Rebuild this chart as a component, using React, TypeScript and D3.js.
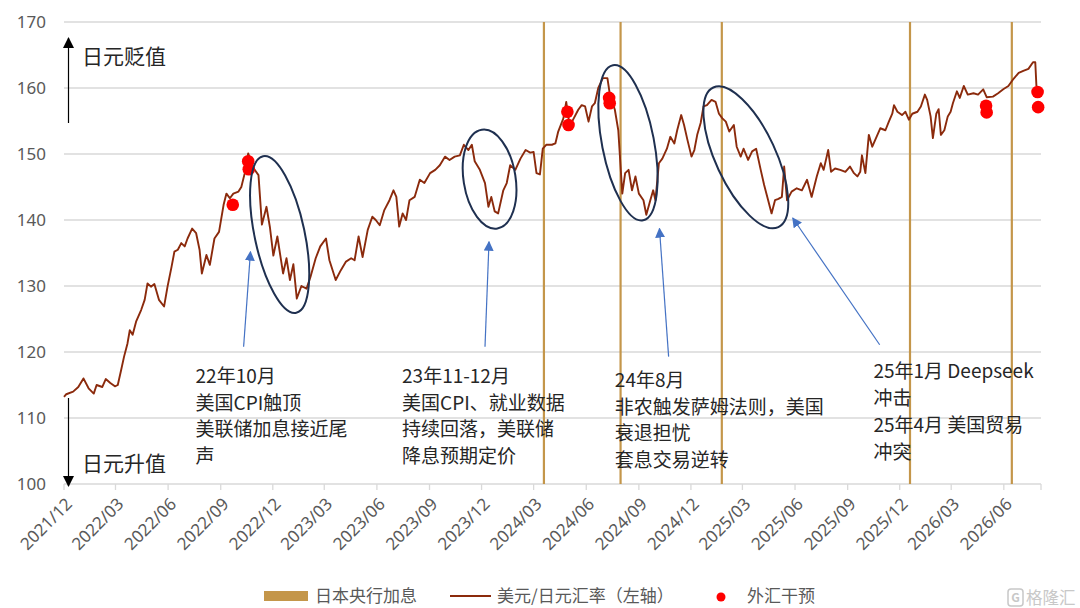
import * as d3 from "d3";

const FONT = '"Noto Sans CJK SC", "Noto Sans", sans-serif';

// USD/JPY (roughly weekly)
const usdJpy: [string, number][] = [
  ["2021-12-01", 113.2], ["2021-12-05", 113.6], ["2021-12-17", 114.0], ["2021-12-26", 114.7],
  ["2022-01-04", 116.0], ["2022-01-13", 114.5], ["2022-01-22", 113.7], ["2022-01-27", 115.0],
  ["2022-02-06", 114.7], ["2022-02-12", 115.9], ["2022-02-20", 115.3], ["2022-02-28", 114.8],
  ["2022-03-05", 115.0], ["2022-03-11", 117.3], ["2022-03-16", 119.3], ["2022-03-22", 121.3],
  ["2022-03-26", 123.3], ["2022-03-31", 122.6], ["2022-04-06", 124.6], ["2022-04-15", 126.4],
  ["2022-04-21", 127.9], ["2022-04-26", 130.4], ["2022-05-02", 129.9], ["2022-05-08", 130.3],
  ["2022-05-16", 127.9], ["2022-05-25", 126.9], ["2022-05-31", 129.9], ["2022-06-07", 132.9],
  ["2022-06-12", 135.2], ["2022-06-18", 135.5], ["2022-06-24", 136.5], ["2022-06-30", 136.0],
  ["2022-07-05", 137.2], ["2022-07-13", 138.7], ["2022-07-20", 138.0], ["2022-07-26", 135.5],
  ["2022-07-30", 131.9], ["2022-08-07", 134.7], ["2022-08-13", 133.2], ["2022-08-21", 137.2],
  ["2022-08-29", 138.2], ["2022-09-06", 142.3], ["2022-09-11", 144.0], ["2022-09-17", 143.3],
  ["2022-09-23", 144.0], ["2022-10-02", 144.3], ["2022-10-07", 145.0], ["2022-10-13", 147.1],
  ["2022-10-19", 150.1], ["2022-10-27", 148.0], ["2022-11-06", 146.8], ["2022-11-12", 139.3],
  ["2022-11-20", 142.0], ["2022-11-26", 138.9], ["2022-12-02", 134.6], ["2022-12-09", 137.5],
  ["2022-12-19", 131.9], ["2022-12-25", 134.2], ["2022-12-31", 130.9], ["2023-01-06", 133.3],
  ["2023-01-12", 128.1], ["2023-01-20", 130.0], ["2023-01-29", 129.6], ["2023-02-05", 131.4],
  ["2023-02-14", 134.2], ["2023-02-22", 136.0], ["2023-03-04", 137.2], ["2023-03-10", 133.9],
  ["2023-03-21", 130.9], ["2023-03-30", 132.4], ["2023-04-08", 133.7], ["2023-04-17", 134.2],
  ["2023-04-23", 133.9], ["2023-04-30", 137.5], ["2023-05-07", 134.4], ["2023-05-16", 138.5],
  ["2023-05-24", 140.5], ["2023-05-30", 140.0], ["2023-06-06", 139.2], ["2023-06-14", 141.5],
  ["2023-06-23", 143.0], ["2023-06-30", 144.5], ["2023-07-05", 143.5], ["2023-07-10", 139.0],
  ["2023-07-16", 141.0], ["2023-07-22", 140.0], ["2023-07-28", 143.0], ["2023-08-06", 143.5],
  ["2023-08-15", 146.1], ["2023-08-23", 145.6], ["2023-09-02", 147.1], ["2023-09-11", 147.6],
  ["2023-09-19", 148.3], ["2023-09-28", 149.6], ["2023-10-06", 149.1], ["2023-10-15", 149.6],
  ["2023-10-24", 149.8], ["2023-10-31", 151.4], ["2023-11-08", 150.6], ["2023-11-14", 151.4],
  ["2023-11-19", 148.9], ["2023-11-28", 147.6], ["2023-12-07", 145.6], ["2023-12-13", 142.0],
  ["2023-12-18", 143.5], ["2023-12-24", 141.3], ["2023-12-30", 141.0], ["2024-01-08", 144.5],
  ["2024-01-14", 145.6], ["2024-01-20", 148.3], ["2024-01-29", 147.6], ["2024-02-07", 149.3],
  ["2024-02-16", 150.6], ["2024-02-24", 150.2], ["2024-03-01", 150.3], ["2024-03-06", 147.1],
  ["2024-03-12", 146.9], ["2024-03-17", 150.8], ["2024-03-23", 151.4], ["2024-04-02", 151.4],
  ["2024-04-08", 151.6], ["2024-04-13", 153.4], ["2024-04-22", 155.4], ["2024-04-27", 157.9],
  ["2024-05-03", 154.2], ["2024-05-09", 155.2], ["2024-05-18", 156.7], ["2024-05-24", 157.4],
  ["2024-05-30", 157.2], ["2024-06-05", 154.9], ["2024-06-11", 157.2], ["2024-06-16", 157.7],
  ["2024-06-22", 160.0], ["2024-06-30", 161.5], ["2024-07-08", 161.5], ["2024-07-12", 159.2],
  ["2024-07-21", 156.7], ["2024-07-27", 153.6], ["2024-08-03", 144.0], ["2024-08-08", 147.1],
  ["2024-08-14", 147.6], ["2024-08-20", 144.5], ["2024-08-26", 146.6], ["2024-09-01", 144.0],
  ["2024-09-09", 143.0], ["2024-09-14", 140.8], ["2024-09-21", 143.0], ["2024-09-26", 144.5],
  ["2024-09-30", 143.0], ["2024-10-06", 148.6], ["2024-10-12", 149.3], ["2024-10-20", 150.8],
  ["2024-10-26", 152.6], ["2024-11-02", 151.6], ["2024-11-07", 153.6], ["2024-11-14", 155.9],
  ["2024-11-19", 154.4], ["2024-11-25", 152.1], ["2024-12-02", 149.6], ["2024-12-07", 150.6],
  ["2024-12-12", 152.9], ["2024-12-18", 154.7], ["2024-12-23", 157.2], ["2024-12-29", 157.4],
  ["2025-01-06", 158.2], ["2025-01-13", 157.9], ["2025-01-19", 156.1], ["2025-01-25", 155.4],
  ["2025-01-31", 154.9], ["2025-02-06", 153.4], ["2025-02-14", 154.4], ["2025-02-19", 151.1],
  ["2025-02-26", 149.6], ["2025-03-03", 150.8], ["2025-03-11", 149.1], ["2025-03-18", 150.4],
  ["2025-03-25", 150.8], ["2025-04-02", 147.6], ["2025-04-08", 145.3], ["2025-04-15", 143.0],
  ["2025-04-21", 141.0], ["2025-04-27", 143.0], ["2025-05-03", 143.2], ["2025-05-09", 143.5],
  ["2025-05-13", 148.1], ["2025-05-18", 143.0], ["2025-05-26", 144.3], ["2025-06-04", 144.8],
  ["2025-06-13", 144.5], ["2025-06-22", 146.1], ["2025-06-30", 143.5], ["2025-07-09", 146.6],
  ["2025-07-16", 148.6], ["2025-07-21", 147.6], ["2025-07-29", 150.6], ["2025-08-03", 147.3],
  ["2025-08-10", 147.8], ["2025-08-19", 147.6], ["2025-08-28", 147.3], ["2025-09-05", 148.1],
  ["2025-09-12", 147.1], ["2025-09-18", 146.6], ["2025-09-23", 147.3], ["2025-09-26", 149.8],
  ["2025-10-02", 147.1], ["2025-10-08", 152.9], ["2025-10-14", 151.1], ["2025-10-19", 152.1],
  ["2025-10-28", 153.9], ["2025-11-06", 153.6], ["2025-11-12", 154.9], ["2025-11-18", 156.1],
  ["2025-11-21", 157.4], ["2025-11-27", 156.4], ["2025-12-05", 155.9], ["2025-12-11", 156.4],
  ["2025-12-17", 155.2], ["2025-12-23", 156.1], ["2026-01-01", 156.4], ["2026-01-07", 157.2],
  ["2026-01-14", 159.0], ["2026-01-18", 158.2], ["2026-01-24", 155.7], ["2026-01-28", 152.4],
  ["2026-02-03", 156.1], ["2026-02-07", 156.8], ["2026-02-11", 152.9], ["2026-02-17", 153.6],
  ["2026-02-23", 155.7], ["2026-02-28", 156.4], ["2026-03-04", 157.7], ["2026-03-11", 159.5],
  ["2026-03-16", 158.5], ["2026-03-23", 160.3], ["2026-03-30", 159.0], ["2026-04-09", 159.2],
  ["2026-04-17", 159.0], ["2026-04-26", 159.8], ["2026-05-02", 158.6], ["2026-05-13", 158.7],
  ["2026-05-22", 159.2], ["2026-05-31", 159.8], ["2026-06-09", 160.3], ["2026-06-18", 161.4],
  ["2026-06-27", 162.3], ["2026-07-05", 162.6], ["2026-07-14", 162.9], ["2026-07-22", 163.9],
  ["2026-07-26", 163.9], ["2026-07-28", 160.3],
];

// FX interventions (red dots)
const interventions: [string, number][] = [
  ["2022-09-22", 142.3], ["2022-10-19", 148.9], ["2022-10-20", 147.7],
  ["2024-04-29", 156.4], ["2024-05-01", 154.4],
  ["2024-07-11", 158.5], ["2024-07-12", 157.7],
  ["2026-05-01", 157.3], ["2026-05-02", 156.3],
  ["2026-07-30", 159.4], ["2026-07-31", 157.1],
];

// BoJ rate hikes (vertical lines)
const bojHikes = ["2024-03-19", "2024-07-31", "2025-01-24", "2025-12-19", "2026-06-15"];

const yTicks = [100, 110, 120, 130, 140, 150, 160, 170];

// quarterly x tick labels
const xTickLabels = [
  "2021/12", "2022/03", "2022/06", "2022/09", "2022/12", "2023/03", "2023/06", "2023/09", "2023/12",
  "2024/03", "2024/06", "2024/09", "2024/12", "2025/03", "2025/06", "2025/09", "2025/12", "2026/03", "2026/06",
];

// episode circles: centre date/value
const episodes: [string, number][] = [
  ["2022-12-13", 137.8], ["2023-12-15", 146.2], ["2024-08-13", 151.7], ["2025-03-07", 149.5],
];

// arrows: [tail date, tail value, tip date, tip value]
const arrows: [string, number, string, number][] = [
  ["2022-10-11", 120.8, "2022-10-23", 135.2],
  ["2023-12-07", 120.8, "2023-12-14", 136.7],
  ["2024-10-23", 119.3, "2024-10-07", 138.7],
  ["2025-10-27", 121.1, "2025-05-28", 140.3],
];

// note blocks: anchor date/value of the first line
const noteAnchors: [string, number][] = [
  ["2022-07-19", 115.3], ["2023-07-15", 115.3], ["2024-07-21", 114.7], ["2025-10-16", 116.0],
];
const noteLines = [
  ["22年10月", "美国CPI触顶", "美联储加息接近尾", "声"],
  ["23年11-12月", "美国CPI、就业数据", "持续回落，美联储", "降息预期定价"],
  ["24年8月", "非农触发萨姆法则，美国", "衰退担忧", "套息交易逆转"],
  ["25年1月 Deepseek", "冲击", "25年4月 美国贸易", "冲突"],
];

const legendLabels = ["日本央行加息", "美元/日元汇率（左轴）", "外汇干预"];

const W = 1080;
const H = 608;
const parse = d3.timeParse("%Y-%m-%d");
const d = (s: string) => parse(s) as Date;
const parseTick = d3.timeParse("%Y/%m");

export default function App() {
  const x = d3.scaleTime().domain([d("2021-12-01"), d("2026-08-05")]).range([64, 1041]);
  const y = d3.scaleLinear().domain([100, 170]).range([484, 22]);

  const line = d3.line<[string, number]>()
    .x(p => x(d(p[0])))
    .y(p => y(p[1]));

  const ellipseSize = [
    { rx: 25, ry: 80, rot: -12 },
    { rx: 26, ry: 50, rot: -9 },
    { rx: 26, ry: 79, rot: -11 },
    { rx: 30, ry: 77, rot: -25 },
  ];

  const gray = "#595959";
  const tickFont = '"Noto Sans", sans-serif';

  return (
    <svg width={W} height={H} style={{ position: "absolute", left: 0, top: 0, background: "#fff" }}
      fontFamily={FONT}>
      <defs>
        <marker id="blueHead" viewBox="0 0 10 10" refX="9" refY="5" markerWidth="10" markerHeight="10"
          markerUnits="userSpaceOnUse" orient="auto">
          <path d="M0,0 L10,5 L0,10 z" fill="#4472C4" />
        </marker>
        <marker id="blackHead" viewBox="0 0 10 10" refX="9" refY="5" markerWidth="12" markerHeight="11"
          markerUnits="userSpaceOnUse" orient="auto">
          <path d="M0,0 L10,5 L0,10 z" fill="#000" />
        </marker>
      </defs>
      <rect width={W} height={H} fill="#fff" />

      {/* grid */}
      {yTicks.map(t => (
        <g key={t}>
          <line x1={64} x2={1041} y1={y(t)} y2={y(t)} stroke="#d9d9d9" strokeWidth={1.3} />
          <text x={46} y={y(t)} dy="0.35em" textAnchor="end" fontSize={17} fill={gray}
            fontFamily={tickFont}>{t}</text>
        </g>
      ))}

      {/* x axis */}
      {xTickLabels.map(lbl => {
        const tx = x(parseTick(lbl) as Date);
        return (
          <g key={lbl}>
            <line x1={tx} x2={tx} y1={484} y2={490} stroke="#d9d9d9" strokeWidth={1.3} />
            <text transform={`translate(${tx + 5},${501}) rotate(-45)`} textAnchor="end" dy="0.35em"
              fontSize={17} fill={gray} fontFamily={tickFont}>{lbl}</text>
          </g>
        );
      })}
      <line x1={1041} x2={1041} y1={484} y2={490} stroke="#d9d9d9" strokeWidth={1.3} />

      {/* BoJ hikes */}
      {bojHikes.map(s => (
        <line key={s} x1={x(d(s))} x2={x(d(s))} y1={y(170)} y2={y(100)} stroke="#C4964A" strokeWidth={2.2} />
      ))}

      {/* USD/JPY */}
      <path d={line(usdJpy) ?? ""} fill="none" stroke="#8B2A0C" strokeWidth={1.9} strokeLinejoin="round" />

      {/* interventions */}
      {interventions.map(([s, v], i) => (
        <circle key={i} cx={x(d(s))} cy={y(v)} r={6.3} fill="#FF0000" />
      ))}

      {/* episode circles */}
      {episodes.map(([s, v], i) => {
        const e = ellipseSize[i];
        return (
          <ellipse key={i} transform={`translate(${x(d(s))},${y(v)}) rotate(${e.rot})`}
            rx={e.rx} ry={e.ry} fill="none" stroke="#1F3050" strokeWidth={2} />
        );
      })}

      {/* arrows */}
      {arrows.map(([s0, v0, s1, v1], i) => (
        <line key={i} x1={x(d(s0))} y1={y(v0)} x2={x(d(s1))} y2={y(v1)} stroke="#4472C4"
          strokeWidth={1.2} markerEnd="url(#blueHead)" />
      ))}

      {/* notes */}
      {noteLines.map((lines, i) => {
        const [s, v] = noteAnchors[i];
        return (
          <text key={i} x={x(d(s))} y={y(v)} fontSize={19} fill="#262626">
            {lines.map((l, j) => (
              <tspan key={j} x={x(d(s))} dy={j === 0 ? 0 : 26.7}>{l}</tspan>
            ))}
          </text>
        );
      })}

      {/* direction arrows on the y axis */}
      <line x1={68.5} x2={68.5} y1={123} y2={38} stroke="#000" strokeWidth={1.2} markerEnd="url(#blackHead)" />
      <text x={82} y={64} fontSize={21} fill="#262626">日元贬值</text>
      <line x1={68.5} x2={68.5} y1={398} y2={486} stroke="#000" strokeWidth={1.2} markerEnd="url(#blackHead)" />
      <text x={82} y={471} fontSize={21} fill="#262626">日元升值</text>

      {/* legend */}
      <rect x={264} y={591} width={44} height={10} fill="#C4964A" />
      <text x={315} y={596} dy="0.35em" fontSize={17} fill={gray}>{legendLabels[0]}</text>
      <line x1={450} x2={491} y1={596} y2={596} stroke="#8B2A0C" strokeWidth={2} />
      <text x={497} y={596} dy="0.35em" fontSize={17} fill={gray}>{legendLabels[1]}</text>
      <circle cx={721} cy={597} r={4.5} fill="#FF0000" />
      <text x={747} y={596} dy="0.35em" fontSize={17} fill={gray}>{legendLabels[2]}</text>

      {/* watermark */}
      <rect x={1008} y={589} width={15} height={17} rx={3} fill="none" stroke="#c8c8c8" strokeWidth={1.5} />
      <text x={1015.5} y={598} dy="0.35em" textAnchor="middle" fontSize={12} fill="#c8c8c8" fontWeight="bold">G</text>
      <text x={1026} y={598} dy="0.35em" fontSize={16.5} fill="#c8c8c8">格隆汇</text>
    </svg>
  );
}
